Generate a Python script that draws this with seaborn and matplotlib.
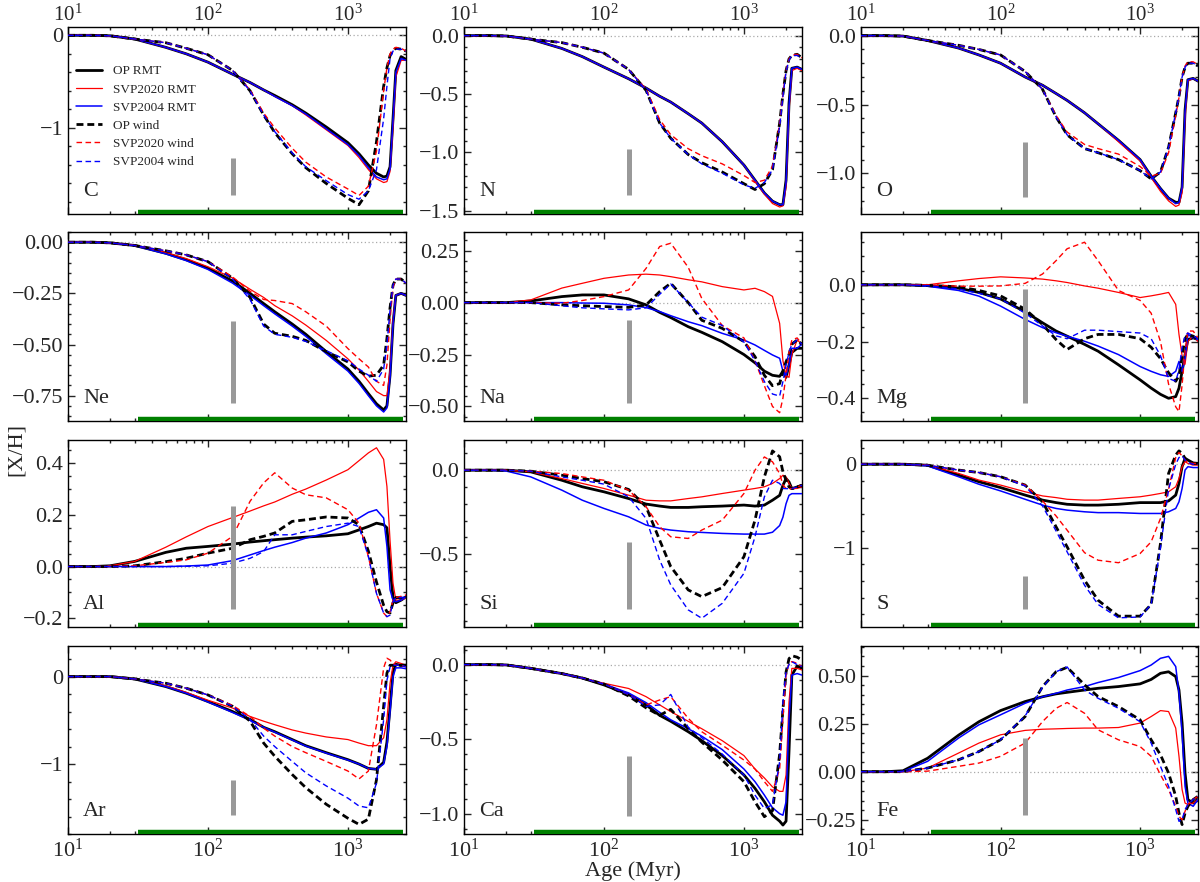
import matplotlib
matplotlib.use("Agg")
import matplotlib.pyplot as plt
from matplotlib.ticker import MultipleLocator
import seaborn as sns

sns.set_theme(style="ticks")
plt.rcParams['font.family'] = ['Liberation Serif', 'DejaVu Serif']
plt.rcParams['mathtext.fontset'] = 'custom'
plt.rcParams['mathtext.rm'] = 'Liberation Serif'
plt.rcParams['mathtext.it'] = 'Liberation Serif:italic'

# ---------------- data ----------------
AGE = [10, 15, 20, 30, 50, 70, 100, 150, 200, 250, 300, 400, 500, 700, 1000,
       1200, 1400, 1600, 1800, 1900, 2000, 2100, 2200, 2400, 2600]

SERIES = ["OP RMT", "SVP2020 RMT", "SVP2004 RMT", "OP wind", "SVP2020 wind", "SVP2004 wind"]
ELEMENTS = ["C", "N", "O", "Ne", "Na", "Mg", "Al", "Si", "S", "Ar", "Ca", "Fe"]

C_OP_RMT = [0, 0, -0.005, -0.04, -0.13, -0.20, -0.29, -0.42, -0.51, -0.59, -0.65, -0.75, -0.84, -0.99, -1.16, -1.28, -1.40, -1.49, -1.53, -1.52, -1.42, -0.90, -0.38, -0.23, -0.26]
C_SVP2020_RMT = [0, 0, -0.005, -0.04, -0.13, -0.20, -0.29, -0.42, -0.51, -0.59, -0.66, -0.76, -0.86, -1.02, -1.19, -1.32, -1.45, -1.55, -1.59, -1.58, -1.47, -1.00, -0.45, -0.27, -0.27]
C_SVP2004_RMT = [0, 0, -0.005, -0.04, -0.13, -0.20, -0.29, -0.42, -0.51, -0.59, -0.66, -0.76, -0.85, -1.01, -1.18, -1.30, -1.43, -1.53, -1.56, -1.55, -1.44, -0.92, -0.40, -0.25, -0.27]
C_OP_wind = [0, 0, -0.005, -0.04, -0.08, -0.14, -0.21, -0.38, -0.60, -0.86, -1.05, -1.28, -1.43, -1.60, -1.76, -1.83, -1.68, -1.15, -0.55, -0.35, -0.22, -0.16, -0.14, -0.15, -0.17]
C_SVP2020_wind = [0, 0, -0.005, -0.04, -0.08, -0.14, -0.21, -0.38, -0.59, -0.84, -1.00, -1.22, -1.37, -1.53, -1.66, -1.73, -1.63, -1.25, -0.60, -0.35, -0.20, -0.15, -0.13, -0.14, -0.17]
C_SVP2004_wind = [0, 0, -0.005, -0.04, -0.08, -0.14, -0.21, -0.38, -0.60, -0.86, -1.04, -1.27, -1.42, -1.57, -1.72, -1.77, -1.68, -1.45, -0.90, -0.55, -0.25, -0.17, -0.15, -0.15, -0.17]

N_OP_RMT = [0, 0, -0.003, -0.03, -0.11, -0.18, -0.27, -0.37, -0.45, -0.52, -0.57, -0.67, -0.75, -0.91, -1.11, -1.24, -1.35, -1.42, -1.45, -1.45, -1.24, -0.58, -0.28, -0.27, -0.29]
N_SVP2020_RMT = [0, 0, -0.003, -0.03, -0.11, -0.18, -0.27, -0.37, -0.45, -0.52, -0.57, -0.67, -0.75, -0.91, -1.11, -1.25, -1.36, -1.44, -1.47, -1.46, -1.30, -0.65, -0.30, -0.28, -0.30]
N_SVP2004_RMT = [0, 0, -0.003, -0.03, -0.11, -0.18, -0.27, -0.37, -0.45, -0.52, -0.57, -0.67, -0.75, -0.91, -1.11, -1.24, -1.35, -1.42, -1.45, -1.45, -1.26, -0.60, -0.28, -0.27, -0.29]
N_OP_wind = [0, 0, -0.003, -0.03, -0.06, -0.10, -0.15, -0.29, -0.47, -0.75, -0.88, -1.02, -1.09, -1.17, -1.27, -1.32, -1.27, -1.15, -0.75, -0.50, -0.30, -0.20, -0.17, -0.16, -0.19]
N_SVP2020_wind = [0, 0, -0.003, -0.03, -0.06, -0.10, -0.15, -0.29, -0.46, -0.72, -0.85, -0.97, -1.03, -1.10, -1.20, -1.26, -1.24, -1.12, -0.75, -0.50, -0.30, -0.20, -0.17, -0.16, -0.19]
N_SVP2004_wind = [0, 0, -0.003, -0.03, -0.06, -0.10, -0.15, -0.29, -0.47, -0.75, -0.88, -1.02, -1.10, -1.18, -1.28, -1.31, -1.26, -1.15, -0.78, -0.52, -0.31, -0.21, -0.17, -0.17, -0.19]

O_OP_RMT = [0, 0, -0.003, -0.035, -0.09, -0.14, -0.20, -0.30, -0.36, -0.42, -0.47, -0.56, -0.64, -0.76, -0.90, -1.02, -1.11, -1.18, -1.21, -1.21, -1.10, -0.54, -0.32, -0.31, -0.33]
O_SVP2020_RMT = [0, 0, -0.003, -0.035, -0.09, -0.14, -0.20, -0.30, -0.36, -0.42, -0.47, -0.56, -0.64, -0.77, -0.91, -1.03, -1.13, -1.20, -1.24, -1.23, -1.14, -0.60, -0.33, -0.31, -0.33]
O_SVP2004_RMT = [0, 0, -0.003, -0.035, -0.09, -0.14, -0.20, -0.30, -0.36, -0.42, -0.47, -0.56, -0.64, -0.76, -0.90, -1.02, -1.11, -1.18, -1.22, -1.21, -1.10, -0.55, -0.32, -0.31, -0.33]
O_OP_wind = [0, 0, -0.003, -0.035, -0.07, -0.10, -0.14, -0.26, -0.39, -0.59, -0.72, -0.82, -0.85, -0.90, -0.98, -1.04, -0.99, -0.81, -0.56, -0.44, -0.30, -0.23, -0.20, -0.20, -0.22]
O_SVP2020_wind = [0, 0, -0.003, -0.035, -0.07, -0.10, -0.14, -0.26, -0.39, -0.58, -0.70, -0.79, -0.82, -0.86, -0.95, -1.02, -1.00, -0.85, -0.58, -0.45, -0.30, -0.22, -0.19, -0.19, -0.21]
O_SVP2004_wind = [0, 0, -0.003, -0.035, -0.07, -0.10, -0.14, -0.26, -0.39, -0.59, -0.72, -0.82, -0.85, -0.90, -0.98, -1.04, -0.99, -0.81, -0.56, -0.44, -0.30, -0.23, -0.20, -0.20, -0.22]

Ne_OP_RMT = [0, 0, -0.003, -0.016, -0.054, -0.086, -0.127, -0.19, -0.25, -0.30, -0.34, -0.40, -0.45, -0.535, -0.62, -0.68, -0.74, -0.79, -0.82, -0.80, -0.65, -0.40, -0.26, -0.25, -0.26]
Ne_SVP2020_RMT = [0, 0, -0.003, -0.015, -0.05, -0.08, -0.12, -0.175, -0.23, -0.27, -0.31, -0.36, -0.405, -0.48, -0.57, -0.625, -0.68, -0.73, -0.75, -0.75, -0.62, -0.38, -0.26, -0.25, -0.26]
Ne_SVP2004_RMT = [0, 0, -0.003, -0.017, -0.057, -0.09, -0.133, -0.20, -0.26, -0.31, -0.35, -0.41, -0.46, -0.545, -0.63, -0.69, -0.75, -0.80, -0.83, -0.81, -0.66, -0.40, -0.26, -0.25, -0.26]
Ne_OP_wind = [0, 0, -0.003, -0.016, -0.042, -0.062, -0.095, -0.176, -0.27, -0.40, -0.445, -0.46, -0.48, -0.535, -0.585, -0.63, -0.655, -0.65, -0.60, -0.47, -0.32, -0.21, -0.18, -0.18, -0.20]
Ne_SVP2020_wind = [0, 0, -0.003, -0.016, -0.042, -0.062, -0.095, -0.17, -0.24, -0.28, -0.285, -0.30, -0.34, -0.41, -0.52, -0.57, -0.61, -0.68, -0.70, -0.60, -0.38, -0.22, -0.18, -0.18, -0.20]
Ne_SVP2004_wind = [0, 0, -0.003, -0.016, -0.042, -0.062, -0.095, -0.18, -0.28, -0.41, -0.45, -0.465, -0.485, -0.53, -0.58, -0.62, -0.65, -0.68, -0.62, -0.50, -0.33, -0.21, -0.18, -0.18, -0.20]

Na_OP_RMT = [0, 0, 0.0, 0.008, 0.029, 0.037, 0.037, 0.018, -0.011, -0.047, -0.072, -0.116, -0.143, -0.188, -0.25, -0.29, -0.33, -0.35, -0.355, -0.33, -0.36, -0.30, -0.24, -0.22, -0.22]
Na_SVP2020_RMT = [0, 0, 0.0, 0.013, 0.07, 0.093, 0.117, 0.133, 0.137, 0.133, 0.125, 0.11, 0.10, 0.077, 0.061, 0.069, 0.053, 0.03, -0.10, -0.28, -0.35, -0.36, -0.25, -0.18, -0.20]
Na_SVP2004_RMT = [0, 0, 0.0, 0.0, 0.0, -0.002, -0.003, -0.011, -0.024, -0.043, -0.063, -0.092, -0.111, -0.148, -0.18, -0.204, -0.23, -0.252, -0.268, -0.33, -0.35, -0.30, -0.22, -0.22, -0.20]
Na_OP_wind = [0, 0, 0.0, 0.0, -0.011, -0.015, -0.019, -0.023, -0.011, 0.053, 0.093, 0.0, -0.085, -0.124, -0.188, -0.26, -0.35, -0.40, -0.39, -0.33, -0.285, -0.25, -0.20, -0.18, -0.20]
Na_SVP2020_wind = [0, 0, 0.0, 0.0, -0.003, 0.01, 0.029, 0.061, 0.165, 0.27, 0.286, 0.17, 0.02, -0.11, -0.17, -0.28, -0.40, -0.50, -0.53, -0.46, -0.35, -0.24, -0.18, -0.17, -0.20]
Na_SVP2004_wind = [0, 0, 0.0, 0.0, -0.015, -0.025, -0.03, -0.035, -0.025, 0.04, 0.09, 0.0, -0.07, -0.11, -0.19, -0.28, -0.38, -0.44, -0.45, -0.38, -0.30, -0.24, -0.20, -0.18, -0.20]

Mg_OP_RMT = [0, 0, 0.0, -0.003, -0.012, -0.027, -0.05, -0.095, -0.134, -0.163, -0.181, -0.21, -0.234, -0.282, -0.335, -0.364, -0.386, -0.40, -0.394, -0.364, -0.305, -0.246, -0.193, -0.187, -0.193]
Mg_SVP2020_RMT = [0, 0, 0.0, 0.0, 0.014, 0.022, 0.028, 0.024, 0.02, 0.014, 0.008, -0.004, -0.012, -0.027, -0.045, -0.039, -0.033, -0.027, -0.069, -0.175, -0.25, -0.28, -0.20, -0.18, -0.20]
Mg_SVP2004_RMT = [0, 0, 0.0, -0.005, -0.02, -0.04, -0.075, -0.122, -0.151, -0.169, -0.181, -0.199, -0.216, -0.246, -0.288, -0.305, -0.317, -0.323, -0.305, -0.27, -0.305, -0.258, -0.175, -0.187, -0.193]
Mg_OP_wind = [0, 0, 0.0, -0.002, -0.007, -0.02, -0.039, -0.086, -0.14, -0.193, -0.228, -0.19, -0.175, -0.175, -0.19, -0.22, -0.26, -0.31, -0.34, -0.32, -0.25, -0.19, -0.175, -0.181, -0.193]
Mg_SVP2020_wind = [0, 0, 0.0, 0.0, -0.005, -0.005, -0.004, 0.005, 0.038, 0.085, 0.127, 0.15, 0.085, -0.02, -0.055, -0.10, -0.20, -0.35, -0.43, -0.447, -0.353, -0.234, -0.163, -0.163, -0.187]
Mg_SVP2004_wind = [0, 0, 0.0, -0.003, -0.015, -0.03, -0.05, -0.10, -0.145, -0.18, -0.19, -0.16, -0.16, -0.165, -0.17, -0.19, -0.25, -0.33, -0.34, -0.30, -0.22, -0.18, -0.17, -0.18, -0.19]

Al_OP_RMT = [0, 0, 0.003, 0.02, 0.055, 0.071, 0.078, 0.087, 0.095, 0.10, 0.104, 0.11, 0.114, 0.119, 0.127, 0.142, 0.155, 0.168, 0.162, 0.15, 0.0, -0.12, -0.14, -0.13, -0.117]
Al_SVP2020_RMT = [0, 0, 0.003, 0.02, 0.075, 0.115, 0.155, 0.19, 0.215, 0.235, 0.25, 0.28, 0.30, 0.335, 0.375, 0.41, 0.44, 0.46, 0.415, 0.31, 0.10, -0.065, -0.13, -0.13, -0.12]
Al_SVP2004_RMT = [0, 0, 0.0, 0.0, 0.0, 0.002, 0.006, 0.023, 0.045, 0.062, 0.075, 0.093, 0.11, 0.13, 0.162, 0.188, 0.21, 0.22, 0.188, 0.078, -0.09, -0.13, -0.136, -0.13, -0.117]
Al_OP_wind = [0, 0, 0.0, 0.003, 0.019, 0.032, 0.052, 0.071, 0.104, 0.117, 0.13, 0.175, 0.181, 0.192, 0.188, 0.162, 0.06, -0.06, -0.15, -0.175, -0.18, -0.14, -0.12, -0.12, -0.117]
Al_SVP2020_wind = [0, 0, 0.0, 0.003, 0.016, 0.026, 0.052, 0.117, 0.253, 0.324, 0.363, 0.304, 0.278, 0.266, 0.22, 0.168, 0.039, -0.104, -0.18, -0.194, -0.175, -0.13, -0.12, -0.115, -0.11]
Al_SVP2004_wind = [0, 0, 0.0, 0.0, 0.0, 0.001, 0.003, 0.013, 0.032, 0.058, 0.123, 0.123, 0.136, 0.155, 0.168, 0.155, 0.039, -0.104, -0.18, -0.194, -0.188, -0.136, -0.12, -0.12, -0.117]

Si_OP_RMT = [0, 0, 0.0, -0.01, -0.06, -0.099, -0.129, -0.169, -0.202, -0.214, -0.222, -0.222, -0.218, -0.214, -0.208, -0.214, -0.208, -0.179, -0.15, -0.09, -0.05, -0.07, -0.11, -0.10, -0.09]
Si_SVP2020_RMT = [0, 0, 0.0, -0.01, -0.05, -0.079, -0.109, -0.149, -0.179, -0.183, -0.183, -0.169, -0.159, -0.139, -0.119, -0.109, -0.099, -0.079, -0.05, -0.03, -0.04, -0.079, -0.109, -0.109, -0.099]
Si_SVP2004_RMT = [0, 0, -0.005, -0.04, -0.119, -0.179, -0.228, -0.278, -0.327, -0.347, -0.357, -0.367, -0.371, -0.377, -0.381, -0.381, -0.381, -0.37, -0.33, -0.28, -0.20, -0.15, -0.14, -0.14, -0.14]
Si_OP_wind = [0, 0, 0.0, -0.006, -0.03, -0.05, -0.069, -0.115, -0.218, -0.417, -0.575, -0.714, -0.754, -0.70, -0.516, -0.298, -0.04, 0.115, 0.08, -0.01, -0.06, -0.10, -0.11, -0.10, -0.09]
Si_SVP2020_wind = [0, 0, 0.0, -0.006, -0.02, -0.04, -0.06, -0.119, -0.218, -0.337, -0.397, -0.407, -0.357, -0.298, -0.139, 0.0, 0.079, 0.05, -0.02, -0.089, -0.109, -0.11, -0.11, -0.10, -0.09]
Si_SVP2004_wind = [0, 0, 0.0, -0.006, -0.04, -0.06, -0.083, -0.159, -0.288, -0.536, -0.684, -0.833, -0.883, -0.794, -0.615, -0.397, -0.159, -0.06, -0.079, -0.109, -0.11, -0.11, -0.11, -0.10, -0.09]

S_OP_RMT = [0, 0, 0.0, -0.012, -0.13, -0.21, -0.28, -0.37, -0.43, -0.46, -0.48, -0.49, -0.49, -0.48, -0.46, -0.46, -0.46, -0.44, -0.37, -0.23, -0.03, 0.07, 0.05, 0.015, 0.01]
S_SVP2020_RMT = [0, 0, 0.0, -0.012, -0.11, -0.19, -0.25, -0.33, -0.38, -0.40, -0.42, -0.43, -0.43, -0.41, -0.39, -0.37, -0.35, -0.33, -0.27, -0.17, -0.03, 0.03, 0.01, -0.01, -0.01]
S_SVP2004_RMT = [0, 0, 0.0, -0.02, -0.15, -0.24, -0.32, -0.42, -0.49, -0.53, -0.55, -0.57, -0.58, -0.58, -0.59, -0.59, -0.59, -0.57, -0.53, -0.45, -0.29, -0.07, -0.03, -0.04, -0.04]
S_OP_wind = [0, 0, 0.0, -0.012, -0.07, -0.10, -0.15, -0.25, -0.45, -0.75, -0.99, -1.39, -1.63, -1.82, -1.82, -1.68, -0.95, -0.11, 0.11, 0.16, 0.13, 0.07, 0.03, 0.01, 0.01]
S_SVP2020_wind = [0, 0, 0.0, -0.012, -0.07, -0.10, -0.15, -0.25, -0.44, -0.62, -0.79, -1.06, -1.15, -1.18, -1.07, -0.93, -0.65, -0.30, 0.08, 0.14, 0.10, 0.05, 0.02, 0.01, 0.01]
S_SVP2004_wind = [0, 0, 0.0, -0.012, -0.07, -0.10, -0.15, -0.26, -0.50, -0.80, -1.05, -1.45, -1.68, -1.84, -1.83, -1.68, -1.00, -0.30, 0.0, 0.08, 0.10, 0.05, 0.02, 0.0, 0.0]

Ar_OP_RMT = [0, 0, 0.0, -0.027, -0.114, -0.19, -0.285, -0.40, -0.49, -0.58, -0.63, -0.72, -0.79, -0.87, -0.95, -1.00, -1.05, -1.06, -0.98, -0.75, -0.35, 0.05, 0.14, 0.13, 0.13]
Ar_SVP2020_RMT = [0, 0, 0.0, -0.025, -0.105, -0.18, -0.27, -0.36, -0.456, -0.51, -0.55, -0.61, -0.646, -0.69, -0.72, -0.76, -0.79, -0.79, -0.70, -0.49, -0.076, 0.13, 0.17, 0.15, 0.13]
Ar_SVP2004_RMT = [0, 0, 0.0, -0.027, -0.114, -0.19, -0.29, -0.41, -0.50, -0.58, -0.635, -0.725, -0.795, -0.875, -0.955, -1.0, -1.05, -1.06, -1.0, -0.80, -0.40, 0.0, 0.10, 0.10, 0.09]
Ar_OP_wind = [0, 0, 0.0, -0.027, -0.076, -0.133, -0.21, -0.34, -0.51, -0.76, -0.91, -1.12, -1.27, -1.46, -1.62, -1.69, -1.63, -1.18, -0.34, 0.04, 0.13, 0.13, 0.12, 0.13, 0.13]
Ar_SVP2020_wind = [0, 0, 0.0, -0.027, -0.076, -0.133, -0.21, -0.33, -0.456, -0.59, -0.68, -0.80, -0.87, -0.97, -1.08, -1.17, -1.08, -0.55, 0.10, 0.21, 0.19, 0.15, 0.13, 0.13, 0.11]
Ar_SVP2004_wind = [0, 0, 0.0, -0.027, -0.076, -0.133, -0.21, -0.34, -0.49, -0.68, -0.80, -0.97, -1.10, -1.25, -1.39, -1.48, -1.50, -1.22, -0.49, -0.04, 0.11, 0.13, 0.13, 0.13, 0.11]

Ca_OP_RMT = [0, 0, -0.002, -0.025, -0.06, -0.09, -0.136, -0.20, -0.27, -0.34, -0.38, -0.45, -0.51, -0.61, -0.74, -0.83, -0.92, -1.01, -1.05, -1.076, -1.05, -0.58, -0.07, -0.01, -0.025]
Ca_SVP2020_RMT = [0, 0, -0.002, -0.025, -0.06, -0.09, -0.125, -0.16, -0.215, -0.27, -0.315, -0.38, -0.43, -0.51, -0.61, -0.70, -0.76, -0.82, -0.85, -0.85, -0.74, -0.25, -0.025, -0.025, -0.036]
Ca_SVP2004_RMT = [0, 0, -0.002, -0.025, -0.06, -0.09, -0.13, -0.19, -0.255, -0.32, -0.37, -0.43, -0.48, -0.57, -0.70, -0.785, -0.875, -0.96, -1.0, -1.01, -0.92, -0.36, -0.07, -0.06, -0.07]
Ca_OP_wind = [0, 0, -0.002, -0.025, -0.06, -0.09, -0.13, -0.21, -0.29, -0.34, -0.30, -0.43, -0.52, -0.64, -0.785, -0.92, -1.02, -0.98, -0.60, -0.30, -0.05, 0.04, 0.06, 0.05, 0.03]
Ca_SVP2020_wind = [0, 0, -0.002, -0.025, -0.06, -0.09, -0.13, -0.20, -0.27, -0.237, -0.215, -0.36, -0.45, -0.54, -0.64, -0.70, -0.785, -0.85, -0.70, -0.36, -0.07, 0.01, 0.02, 0.01, -0.013]
Ca_SVP2004_wind = [0, 0, -0.002, -0.025, -0.06, -0.09, -0.13, -0.20, -0.28, -0.27, -0.20, -0.42, -0.49, -0.60, -0.74, -0.875, -0.965, -0.94, -0.65, -0.25, -0.047, 0.0, 0.02, 0.0, -0.013]

Fe_OP_RMT = [0, 0, 0.005, 0.07, 0.19, 0.26, 0.318, 0.365, 0.39, 0.405, 0.413, 0.425, 0.434, 0.443, 0.457, 0.48, 0.512, 0.52, 0.495, 0.425, 0.253, -0.007, -0.145, -0.163, -0.145]
Fe_SVP2020_RMT = [0, 0, 0.0, 0.019, 0.097, 0.149, 0.192, 0.215, 0.221, 0.223, 0.225, 0.227, 0.227, 0.23, 0.253, 0.287, 0.318, 0.313, 0.227, 0.08, -0.093, -0.163, -0.171, -0.163, -0.145]
Fe_SVP2004_RMT = [0, 0, 0.002, 0.054, 0.175, 0.244, 0.296, 0.356, 0.39, 0.408, 0.425, 0.443, 0.464, 0.49, 0.526, 0.555, 0.59, 0.60, 0.547, 0.408, 0.20, -0.076, -0.163, -0.18, -0.145]
Fe_OP_wind = [0, 0, 0.0, 0.019, 0.062, 0.105, 0.166, 0.287, 0.443, 0.52, 0.543, 0.452, 0.391, 0.339, 0.27, 0.166, 0.088, -0.007, -0.128, -0.215, -0.275, -0.215, -0.18, -0.145, -0.128]
Fe_SVP2020_wind = [0, 0, 0.0, 0.003, 0.028, 0.045, 0.08, 0.149, 0.261, 0.33, 0.36, 0.304, 0.218, 0.166, 0.131, 0.08, -0.016, -0.093, -0.18, -0.232, -0.25, -0.206, -0.171, -0.145, -0.128]
Fe_SVP2004_wind = [0, 0, 0.0, 0.019, 0.062, 0.105, 0.166, 0.29, 0.44, 0.52, 0.545, 0.425, 0.382, 0.33, 0.26, 0.149, 0.028, -0.076, -0.197, -0.258, -0.25, -0.197, -0.171, -0.145, -0.128]

# observed abundance (grey bar at 150 Myr): centre and half-range
OBS_AGE = 150
OBS_CENTER = [-1.53, -1.17, -0.97, -0.585, -0.285, -0.215, 0.035, -0.63, -1.535, -1.38, -0.815, -0.025]
OBS_HALF = 0.2
# green age interval
GREEN_RANGE = [31.6, 2460]

# y limits per element
YLIMS = [(-1.93, 0.09), (-1.53, 0.074), (-1.295, 0.063), (-0.874, 0.05),
         (-0.57, 0.34), (-0.48, 0.186), (-0.234, 0.49), (-0.935, 0.18),
         (-1.95, 0.29), (-1.80, 0.35), (-1.136, 0.125), (-0.324, 0.654)]
YMAJOR = [1, 0.5, 0.5, 0.25, 0.25, 0.2, 0.2, 0.5, 1, 1, 0.5, 0.25]
YMINOR = [0.2, 0.1, 0.1, 0.05, 0.05, 0.05, 0.05, 0.1, 0.2, 0.2, 0.1, 0.05]

COLORS = ["black", "red", "blue", "black", "red", "blue"]
WIDTHS = [2.0, 0.9, 1.1, 2.0, 1.0, 1.0]
STYLES = ["-", "-", "-", (0, (2.5, 1.4)), (0, (4, 2.5)), (0, (4, 2.5))]

# ---------------- layout ----------------
FIG_W, FIG_H = 1200, 882
col_px = [(68, 406), (464, 802), (861, 1198)]
row_px = [(27, 214), (232, 421), (440, 627), (646, 834)]

fig = plt.figure(figsize=(12, 8.82), dpi=100)

legend_handles = []
for idx, el in enumerate(ELEMENTS):
    r, c = divmod(idx, 3)
    x0, x1 = col_px[c]
    y0, y1 = row_px[r]
    ax = fig.add_axes([x0 / FIG_W, 1 - y1 / FIG_H, (x1 - x0) / FIG_W, (y1 - y0) / FIG_H])
    ax.set_xscale('log')
    ax.axhline(0, color='#aaaaaa', ls=(0, (1, 2)), lw=0.9, zorder=1)
    series_vals = [globals()[f"{el}_{s}"] for s in
                   ["OP_RMT", "SVP2020_RMT", "SVP2004_RMT", "OP_wind", "SVP2020_wind", "SVP2004_wind"]]
    for k, vals in enumerate(series_vals):
        sns.lineplot(x=AGE, y=vals, ax=ax, color=COLORS[k], linewidth=WIDTHS[k],
                     linestyle=STYLES[k], legend=False, sort=False, estimator=None,
                     label=SERIES[k], zorder=3)
        if idx == 0:
            legend_handles.append(ax.lines[-1])
    # grey observation bar
    ax.vlines(OBS_AGE, OBS_CENTER[idx] - OBS_HALF, OBS_CENTER[idx] + OBS_HALF,
              color='#999999', lw=3.6, zorder=5)
    # green interval bar at the bottom
    ax.plot(GREEN_RANGE, [0.012, 0.012], transform=ax.get_xaxis_transform(),
            color='#008000', lw=3.2, solid_capstyle='butt', zorder=4)

    ax.set_xlim(10, 2600)
    ax.set_ylim(*YLIMS[idx])
    ax.yaxis.set_major_locator(MultipleLocator(YMAJOR[idx]))
    ax.yaxis.set_minor_locator(MultipleLocator(YMINOR[idx]))
    ax.tick_params(which='both', direction='in', top=True, right=True,
                   labelsize=16, width=1.0)
    ax.tick_params(which='major', length=5)
    ax.tick_params(which='minor', length=2.5)
    for sp in ax.spines.values():
        sp.set_linewidth(1.0)
        sp.set_color('black')
    if r == 0:
        ax.tick_params(axis='x', labeltop=True, labelbottom=False, pad=1, labelsize=15)
    elif r == 3:
        ax.tick_params(axis='x', labeltop=False, labelbottom=True, pad=3)
    else:
        ax.tick_params(axis='x', labeltop=False, labelbottom=False)
    ax.set_xlabel('')
    ax.set_ylabel('')
    ax.text(0.045, 0.095, el, transform=ax.transAxes, fontsize=16, ha='left', va='baseline')
    if idx == 0:
        ax.legend(handles=legend_handles, labels=SERIES, loc='upper left',
                  bbox_to_anchor=(0.015, 0.81), frameon=False, fontsize=9.5,
                  handlelength=2.0, handletextpad=0.8, labelspacing=0.45,
                  borderaxespad=0, borderpad=0.2)

fig.text(633 / FIG_W, 1 - 876 / FIG_H, 'Age (Myr)', fontsize=16, ha='center', va='baseline')
fig.text(0.014, 0.49, '[X/H]', rotation=90, fontsize=16, ha='center', va='center')

fig.savefig('out.png', dpi=100)
